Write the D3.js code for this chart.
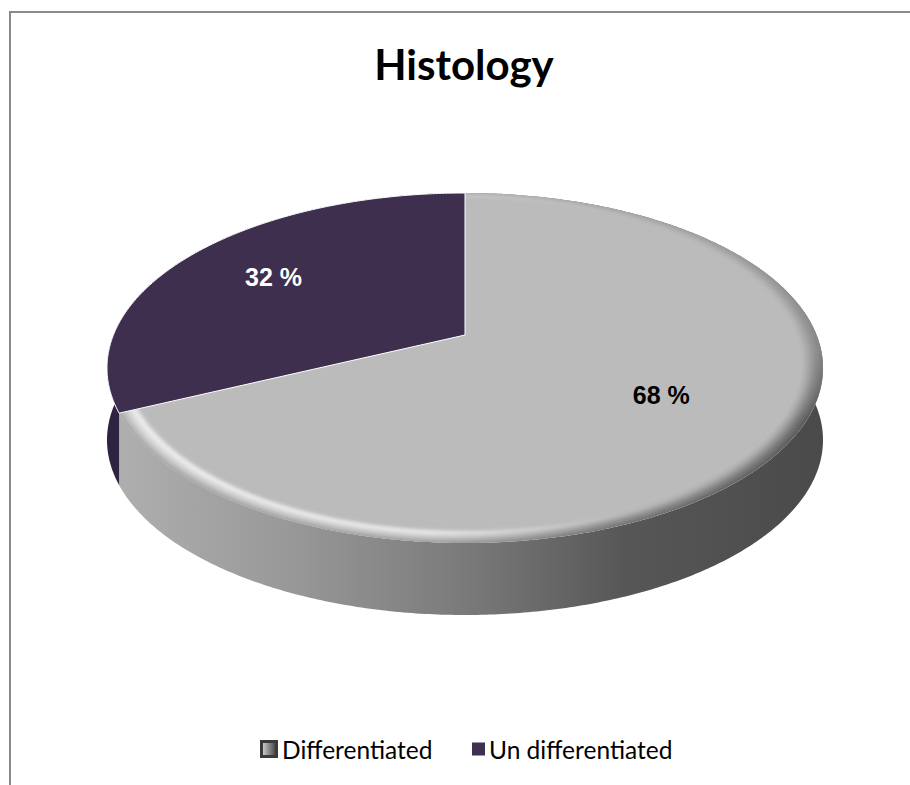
<!DOCTYPE html>
<html>
<head>
<meta charset="utf-8">
<script src="https://cdn.jsdelivr.net/npm/d3@7"></script>
<style>
  html, body { margin: 0; padding: 0; background: #ffffff; }
  svg { display: block; }
</style>
</head>
<body>
<svg id="chart" width="910" height="785"></svg>
<script>
// Histology split, shown as a tilted 3D pie
const categories = ["Differentiated", "Un differentiated"];
const values = [68, 32];
const valueLabels = ["68 %", "32 %"];
const title = "Histology";

const topColors = ["#bbbbbb", "#3e2f4f"];
const sideColors = ["url(#sideGray)", "#2e2340"];
const legendColors = ["url(#legendGray)", "#3f3150"];
const labelColors = ["#000000", "#ffffff"];
const labelRadius = [0.62, 0.69];

const svg = d3.select("#chart");
const W = 910, H = 785;

// frame
svg.append("path")
  .attr("d", `M10,${H} L10,12 L${W},12`)
  .attr("fill", "none").attr("stroke", "#8a8a8a").attr("stroke-width", 2);

const defs = svg.append("defs");

// ---- perspective of the disc ----
// circle coords: x to the right, y towards the viewer, radius 1
// screen Y = (aY*y + centerY) / (cc*y + 1): y=-1 -> farY, y=0 -> centerY, y=1 -> nearY
const cx = 465, farY = 193, centerY = 335, nearY = 543, halfWidth = 358, depth = 72;
const cc = ((nearY - centerY) - (centerY - farY)) / (farY - nearY);
const aY = (centerY - farY) + farY * cc;
const kX = halfWidth * Math.sqrt(1 - cc * cc);

function project(angle, r, dy = 0) {
  const x = r * Math.sin(angle), y = -r * Math.cos(angle);
  const den = cc * y + 1;
  return [cx + kX * x / den, (aY * y + centerY) / den + dy];
}

const pie = d3.pie().sort(null).value(d => d)(values);

function rimPoints(a0, a1, r, dy) {
  const n = Math.max(8, Math.ceil((a1 - a0) / 0.01));
  return d3.range(n + 1).map(i => project(a0 + (a1 - a0) * i / n, r, dy));
}
const line = d3.line();
function sliceTopPath(p, r = 1) {
  return line([project(0, 0)].concat(rimPoints(p.startAngle, p.endAngle, r, 0))) + "Z";
}

// side gradient
const sg = defs.append("linearGradient").attr("id", "sideGray")
  .attr("gradientUnits", "userSpaceOnUse")
  .attr("x1", cx - halfWidth).attr("x2", cx + halfWidth).attr("y1", 0).attr("y2", 0);
[[0, "#b0b0b0"], [0.25, "#999999"], [0.5, "#7a7a7a"], [0.72, "#575757"], [1, "#4a4a4a"]]
  .forEach(([o, col]) => sg.append("stop").attr("offset", o).attr("stop-color", col));

// sides
const gSides = svg.append("g");
pie.forEach((p, i) => {
  const top = rimPoints(p.startAngle, p.endAngle, 1, 0);
  const bot = rimPoints(p.startAngle, p.endAngle, 1, depth).reverse();
  gSides.append("path")
    .attr("d", line(top.concat(bot)) + "Z")
    .attr("fill", sideColors[i]);
});

// top face of the light slice
svg.append("path")
  .attr("d", sliceTopPath(pie[0]))
  .attr("fill", topColors[0]);

// bevel along the rim of the light slice
defs.append("clipPath").attr("id", "grayClip")
  .append("path").attr("d", sliceTopPath(pie[0]));
const mg = defs.append("linearGradient").attr("id", "bevelFade")
  .attr("gradientUnits", "userSpaceOnUse")
  .attr("x1", 0).attr("x2", 0).attr("y1", farY).attr("y2", nearY);
[[0, 0.3], [0.45, 0.55], [0.65, 1], [1, 1]].forEach(([o, a]) =>
  mg.append("stop").attr("offset", o).attr("stop-color", "#fff").attr("stop-opacity", a));
defs.append("mask").attr("id", "bevelMask")
  .append("rect").attr("x", 0).attr("y", 0).attr("width", W).attr("height", H)
  .attr("fill", "url(#bevelFade)");
defs.append("filter").attr("id", "soft").append("feGaussianBlur").attr("stdDeviation", 0.9);

const leftProfile = d3.scaleLinear().domain([0, 0.45, 0.72, 1]).range(["#a2a2a2", "#d6d6d6", "#efefef", "#bbbbbb"]);
const midProfile = d3.scaleLinear().domain([0, 0.45, 0.72, 1]).range(["#979797", "#cdcdcd", "#e9e9e9", "#bbbbbb"]);
const rightProfile = d3.scaleLinear().domain([0, 0.4, 0.8, 1]).range(["#525252", "#747474", "#a6a6a6", "#bbbbbb"]);

const gBevel = svg.append("g").attr("clip-path", "url(#grayClip)")
  .append("g").attr("mask", "url(#bevelMask)").attr("filter", "url(#soft)");
const steps = 16, band = 0.06;
d3.range(steps).forEach(s => {
  const t = s / (steps - 1);
  const gid = "ring" + s;
  const rg = defs.append("linearGradient").attr("id", gid)
    .attr("gradientUnits", "userSpaceOnUse")
    .attr("x1", cx - halfWidth).attr("x2", cx + halfWidth).attr("y1", 0).attr("y2", 0);
  rg.append("stop").attr("offset", 0).attr("stop-color", leftProfile(t));
  rg.append("stop").attr("offset", 0.45).attr("stop-color", midProfile(t));
  rg.append("stop").attr("offset", 0.7).attr("stop-color", d3.interpolateRgb(midProfile(t), rightProfile(t))(0.6));
  rg.append("stop").attr("offset", 1).attr("stop-color", rightProfile(t));
  gBevel.append("path")
    .attr("d", line(rimPoints(0, 2 * Math.PI, 1 - band * t, 0)) + "Z")
    .attr("fill", "none")
    .attr("stroke", `url(#${gid})`)
    .attr("stroke-width", 3);
});

// top face of the dark slice, with its light dividing edge
svg.append("path")
  .attr("d", sliceTopPath(pie[1]))
  .attr("fill", topColors[1])
  .attr("stroke", "#ffffff")
  .attr("stroke-width", 1);

// value labels
pie.forEach((p, i) => {
  const mid = (p.startAngle + p.endAngle) / 2;
  const [lx, ly] = project(mid, labelRadius[i]);
  svg.append("text")
    .attr("x", lx).attr("y", ly)
    .attr("text-anchor", "middle").attr("dominant-baseline", "central")
    .attr("font-family", "'Liberation Sans', Arial, sans-serif")
    .attr("font-weight", "bold").attr("font-size", 25)
    .attr("fill", labelColors[i])
    .text(valueLabels[i]);
});

// title
svg.append("text")
  .attr("x", 464).attr("y", 80)
  .attr("text-anchor", "middle")
  .attr("font-family", "Lato, 'Open Sans', sans-serif")
  .attr("font-weight", "bold").attr("font-size", 42)
  .attr("fill", "#000000")
  .text(title);

// legend
const lg = defs.append("linearGradient").attr("id", "legendGray")
  .attr("x1", 0).attr("x2", 1).attr("y1", 0).attr("y2", 0);
[[0, "#c8c8c8"], [0.5, "#8a8a8a"], [1, "#4a4a4a"]]
  .forEach(([o, col]) => lg.append("stop").attr("offset", o).attr("stop-color", col));

const legendY = 749;
const legendX = [260, 472];
const markerSize = [18, 13];
const gLegend = svg.append("g");
categories.forEach((cat, i) => {
  const s = markerSize[i];
  if (i === 0) {
    gLegend.append("rect").attr("x", legendX[i]).attr("y", legendY - s / 2)
      .attr("width", s).attr("height", s).attr("fill", "#3a3a3a");
    gLegend.append("rect").attr("x", legendX[i] + 3).attr("y", legendY - s / 2 + 3)
      .attr("width", s - 6).attr("height", s - 6).attr("fill", legendColors[i]);
  } else {
    gLegend.append("rect").attr("x", legendX[i]).attr("y", legendY - s / 2)
      .attr("width", s).attr("height", s).attr("fill", legendColors[i]);
  }
  gLegend.append("text")
    .attr("x", legendX[i] + s + 4).attr("y", legendY)
    .attr("dominant-baseline", "central")
    .attr("font-family", "Lato, 'Open Sans', sans-serif")
    .attr("font-size", 24.5)
    .attr("fill", "#000000")
    .text(cat);
});
</script>
</body>
</html>
